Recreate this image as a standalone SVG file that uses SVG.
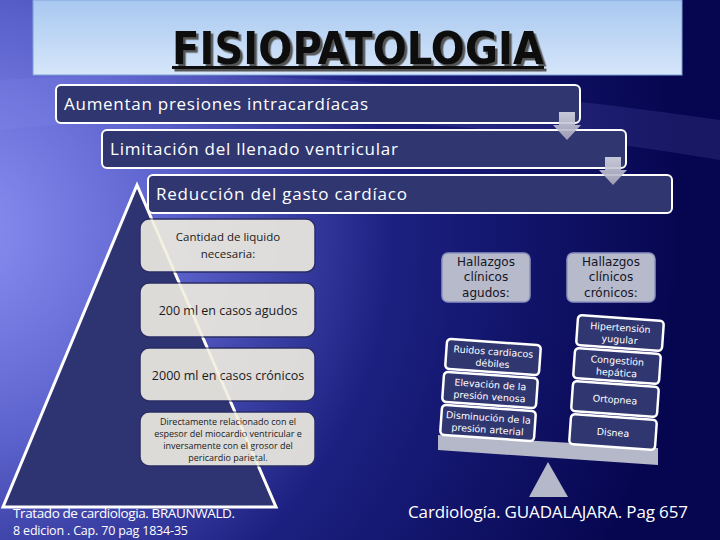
<svg xmlns="http://www.w3.org/2000/svg" width="720" height="540" viewBox="0 0 720 540">
<defs>
<radialGradient id="bg" cx="-40" cy="230" r="720" gradientUnits="userSpaceOnUse">
<stop offset="0" stop-color="#8a90f2"/>
<stop offset="0.3" stop-color="#5c62cc"/>
<stop offset="0.6" stop-color="#1c2080"/>
<stop offset="1" stop-color="#060650"/>
</radialGradient>
<linearGradient id="title" x1="0" y1="0" x2="0" y2="1">
<stop offset="0" stop-color="#a8c8f0"/>
<stop offset="1" stop-color="#d6e6fa"/>
</linearGradient>
<linearGradient id="arr" x1="0" y1="0" x2="0" y2="1">
<stop offset="0" stop-color="#d8d8e4"/>
<stop offset="1" stop-color="#a8a8bc"/>
</linearGradient>
<filter id="shadow" x="-5%" y="-20%" width="110%" height="140%">
<feDropShadow dx="2.5" dy="2.5" stdDeviation="0" flood-color="#555"/>
</filter>
<style>
.nb{fill:#30366f;stroke:#fff;stroke-width:2}
.nt{font-family:"Open Sans","Liberation Sans",sans-serif;font-size:17px;fill:#fff}
.cb{fill:#ebe8df;fill-opacity:0.93;stroke:#2a2e66;stroke-width:1.5}
.ct{font-family:"Open Sans","Liberation Sans",sans-serif;fill:#1a1a1a;text-anchor:middle}
.gb{fill:#b6bacb;stroke:#8c92c0;stroke-width:1.5}
.gt{font-family:"DejaVu Sans","Liberation Sans",sans-serif;font-size:12px;fill:#151525;text-anchor:middle}
.sb{fill:#30366f;stroke:#fff;stroke-width:2.5}
.st{font-family:"DejaVu Sans","Liberation Sans",sans-serif;font-size:9.5px;fill:#fff;text-anchor:middle}
.ref{font-family:"Open Sans","Liberation Sans",sans-serif;fill:#fff}
</style>
</defs>
<rect width="720" height="540" fill="url(#bg)"/>
<path d="M0,80 Q300,60 720,120 L720,160 Q330,95 0,130 Z" fill="#9aa0ff" opacity="0.12"/>

<g id="title-box">
<rect x="33" y="0" width="649" height="75" fill="url(#title)" stroke="#7fa0d8" stroke-width="1"/>
<g filter="url(#shadow)">
<text x="358" y="64" text-anchor="middle" font-family="DejaVu Sans Condensed,Liberation Sans,sans-serif" font-weight="bold" font-size="45" fill="#0a0a0a" textLength="372" lengthAdjust="spacingAndGlyphs">FISIOPATOLOGIA</text>
<rect x="172" y="66" width="372" height="3" fill="#0a0a0a"/>
</g>
</g>

<g id="step1">
<rect class="nb" x="56" y="85" width="524" height="38" rx="5"/>
<text class="nt" x="64" y="110" textLength="304">Aumentan presiones intracardíacas</text>
</g>
<g id="step2">
<rect class="nb" x="102" y="130" width="524" height="38" rx="5"/>
<text class="nt" x="110" y="155" textLength="288">Limitación del llenado ventricular</text>
</g>
<g id="step3">
<rect class="nb" x="148" y="175" width="524" height="38" rx="5"/>
<text class="nt" x="156" y="200" textLength="251">Reducción del gasto cardíaco</text>
</g>

<g id="connectors">
<path d="M559,112 H575 V125 H581 L567,140 L553,125 H559 Z" fill="url(#arr)" opacity="0.9"/>
<path d="M605,157 H621 V170 H627 L613,185 L599,170 H605 Z" fill="url(#arr)" opacity="0.9"/>
</g>

<g id="references-left">
<text class="ref" x="13" y="518" font-size="13.5" textLength="222">Tratado de cardiologia. BRAUNWALD.</text>
<text class="ref" x="13" y="535" font-size="12.5" textLength="175">8 edicion .  Cap. 70 pag 1834-35</text>
</g>

<g id="pyramid">
<polygon points="137,185 3,507 276,507" fill="#2e3372" stroke="#fff" stroke-width="3" stroke-linejoin="miter"/>
</g>

<g id="liquid-title">
<rect class="cb" x="140" y="219" width="175" height="53" rx="9"/>
<text class="ct" x="228" y="241" font-size="11.5">Cantidad de liquido</text>
<text class="ct" x="228" y="258" font-size="11.5">necesaria:</text>
</g>
<g id="liquid-acute">
<rect class="cb" x="140" y="283" width="175" height="54" rx="9"/>
<text class="ct" x="228" y="315" font-size="12.5">200 ml en casos agudos</text>
</g>
<g id="liquid-chronic">
<rect class="cb" x="140" y="348" width="175" height="53" rx="9"/>
<text class="ct" x="228" y="380" font-size="12.5">2000 ml en casos crónicos</text>
</g>
<g id="liquid-note">
<rect class="cb" x="140" y="412" width="175" height="54" rx="9"/>
<text class="ct" x="228" y="425" font-size="9">Directamente relacionado con el</text>
<text class="ct" x="228" y="437" font-size="9">espesor del miocardio ventricular e</text>
<text class="ct" x="228" y="449" font-size="9">inversamente con el grosor del</text>
<text class="ct" x="228" y="461" font-size="9">pericardio parietal.</text>
</g>
<line x1="137" y1="185" x2="276" y2="507" stroke="#fffbe0" stroke-width="2" opacity="0.45"/>

<g id="acute-header">
<rect class="gb" x="442" y="253" width="88" height="49" rx="6"/>
<text class="gt" x="486" y="266">Hallazgos</text>
<text class="gt" x="486" y="281">clínicos</text>
<text class="gt" x="486" y="297">agudos:</text>
</g>
<g id="chronic-header">
<rect class="gb" x="567" y="253" width="88" height="49" rx="6"/>
<text class="gt" x="611" y="266">Hallazgos</text>
<text class="gt" x="611" y="281">clínicos</text>
<text class="gt" x="611" y="297">crónicos:</text>
</g>

<g id="beam">
<polygon points="438,435 658,448 658,465 438,450" fill="#b4b8c8"/>
<polygon points="548,462 568,497 529,497" fill="#b4b8c8"/>
</g>

<g id="ruidos" transform="rotate(4 493 357)">
<rect class="sb" x="446" y="342" width="94" height="30" rx="4"/>
<text class="st" x="493" y="355">Ruidos cardiacos</text>
<text class="st" x="493" y="367">débiles</text>
</g>
<g id="elevacion" transform="rotate(4 490 390)">
<rect class="sb" x="443" y="375" width="94" height="30" rx="4"/>
<text class="st" x="490" y="388">Elevación de la</text>
<text class="st" x="490" y="400">presión venosa</text>
</g>
<g id="disminucion" transform="rotate(4 488 423)">
<rect class="sb" x="441" y="408" width="94" height="30" rx="4"/>
<text class="st" x="488" y="421">Disminución de la</text>
<text class="st" x="488" y="433">presión arterial</text>
</g>

<g id="hipertension" transform="rotate(4 620 333)">
<rect class="sb" x="577" y="318" width="86" height="30" rx="4"/>
<text class="st" x="620" y="331">Hipertensión</text>
<text class="st" x="620" y="343">yugular</text>
</g>
<g id="congestion" transform="rotate(4 617 366)">
<rect class="sb" x="574" y="351" width="86" height="30" rx="4"/>
<text class="st" x="617" y="364">Congestión</text>
<text class="st" x="617" y="376">hepática</text>
</g>
<g id="ortopnea" transform="rotate(4 615 399)">
<rect class="sb" x="572" y="384" width="86" height="30" rx="4"/>
<text class="st" x="615" y="403">Ortopnea</text>
</g>
<g id="disnea" transform="rotate(4 613 432)">
<rect class="sb" x="570" y="417" width="86" height="30" rx="4"/>
<text class="st" x="613" y="436">Disnea</text>
</g>

<g id="reference-right">
<text class="ref" x="408" y="518" font-size="17" textLength="280">Cardiología. GUADALAJARA. Pag  657</text>
</g>
</svg>
